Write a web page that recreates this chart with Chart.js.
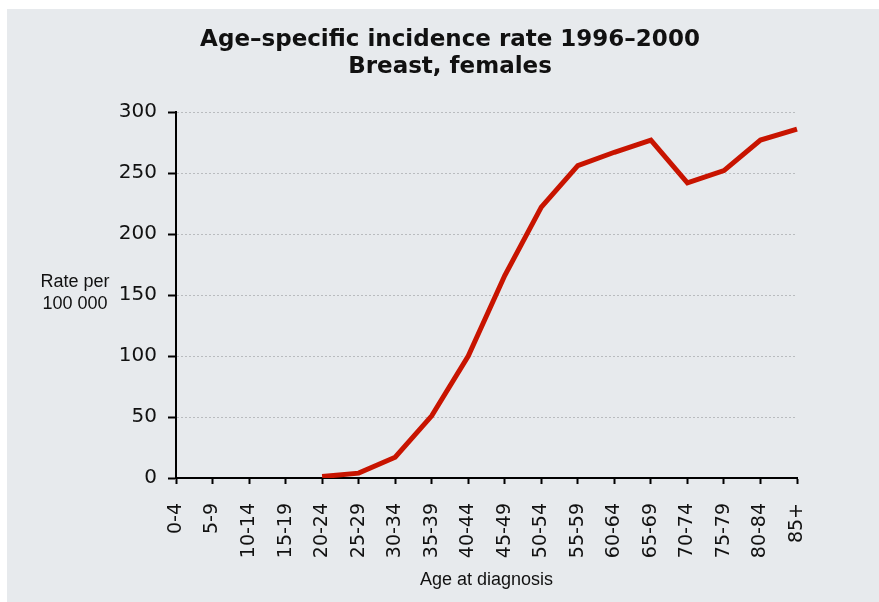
<!DOCTYPE html>
<html>
<head>
<meta charset="utf-8">
<script src="https://cdn.jsdelivr.net/npm/chart.js@4.4.1/dist/chart.umd.min.js"></script>
<style>
    html, body { margin: 0; padding: 0; background: #ffffff; }
    #wrap { position: relative; width: 879px; height: 602px; }
</style>
</head>
<body>
<div id="wrap"><canvas id="incidence-chart" width="879" height="602"></canvas></div>
<script>
(function () {
    'use strict';

    // Age groups and rates (per 100 000)
    var ageGroups = ['0-4', '5-9', '10-14', '15-19', '20-24', '25-29', '30-34', '35-39', '40-44',
        '45-49', '50-54', '55-59', '60-64', '65-69', '70-74', '75-79', '80-84', '85+'];
    var rates = [null, null, null, null, 1.2, 4, 17, 51, 100,
        166, 222, 256, 267, 277, 242, 252, 277, 286];
    var titleLines = ['Age\u2013specific incidence rate 1996\u20132000', 'Breast, females'];
    var yTitleLines = ['Rate per', '100 000'];
    var xTitle = 'Age at diagnosis';

    var panelColor = '#e7eaed';

    // gray panel behind the chart, offset like the original screenshot
    var panelPlugin = {
        id: 'panel',
        beforeDraw: function (chart) {
            var ctx = chart.ctx;
            ctx.save();
            ctx.fillStyle = panelColor;
            ctx.fillRect(7, 9, chart.width - 7, chart.height - 9);
            ctx.restore();
        }
    };

    // horizontal two-line y axis title left of the tick labels
    var yTitlePlugin = {
        id: 'yTitle',
        afterDraw: function (chart) {
            var ctx = chart.ctx;
            var area = chart.chartArea;
            var mid = (area.top + area.bottom) / 2;
            ctx.save();
            ctx.fillStyle = '#111';
            ctx.font = '18px "Liberation Sans", Arial, sans-serif';
            ctx.textAlign = 'center';
            ctx.textBaseline = 'middle';
            ctx.fillText(yTitleLines[0], 75, mid - 13);
            ctx.fillText(yTitleLines[1], 75, mid + 9);
            ctx.restore();
        }
    };

    var ctx = document.getElementById('incidence-chart').getContext('2d');
    new Chart(ctx, {
        type: 'line',
        data: {
            labels: ageGroups,
            datasets: [{
                label: 'Rate',
                data: rates,
                borderColor: '#c81400',
                borderWidth: 5,
                pointRadius: 0,
                tension: 0,
                spanGaps: false
            }]
        },
        options: {
            responsive: false,
            animation: false,
            layout: { padding: { left: 103, right: 82, top: 0, bottom: 0 } },
            plugins: {
                legend: { display: false },
                tooltip: { enabled: false },
                title: {
                    display: true,
                    text: titleLines,
                    color: '#111',
                    font: { family: '"DejaVu Sans", Verdana, sans-serif', size: 23, weight: 'bold', lineHeight: 1.174 },
                    padding: { top: 27, bottom: 31 }
                }
            },
            scales: {
                x: {
                    offset: false,
                    afterFit: function (scale) { scale.height = 124; },
                    grid: {
                        drawOnChartArea: false,
                        tickLength: 6,
                        tickColor: '#000',
                        tickWidth: 2
                    },
                    border: { color: '#000', width: 2 },
                    ticks: {
                        autoSkip: false,
                        minRotation: 90,
                        maxRotation: 90,
                        padding: 19,
                        color: '#111',
                        font: { family: '"DejaVu Sans", Verdana, sans-serif', size: 19 }
                    },
                    title: {
                        display: true,
                        text: xTitle,
                        color: '#111',
                        font: { family: '"Liberation Sans", Arial, sans-serif', size: 18 },
                        padding: { top: 0, bottom: 11 }
                    }
                },
                y: {
                    min: 0,
                    max: 300,
                    afterFit: function (scale) { scale.width = 73; },
                    grid: {
                        color: '#b9bcbf',
                        lineWidth: 1,
                        tickLength: 8,
                        tickColor: '#000',
                        tickWidth: 2
                    },
                    border: { color: '#000', width: 2, dash: [2, 2] },
                    ticks: {
                        stepSize: 50,
                        padding: 11,
                        color: '#111',
                        font: { family: '"DejaVu Sans", Verdana, sans-serif', size: 20 }
                    }
                }
            }
        },
        plugins: [panelPlugin, yTitlePlugin]
    });
})();
</script>
</body>
</html>
